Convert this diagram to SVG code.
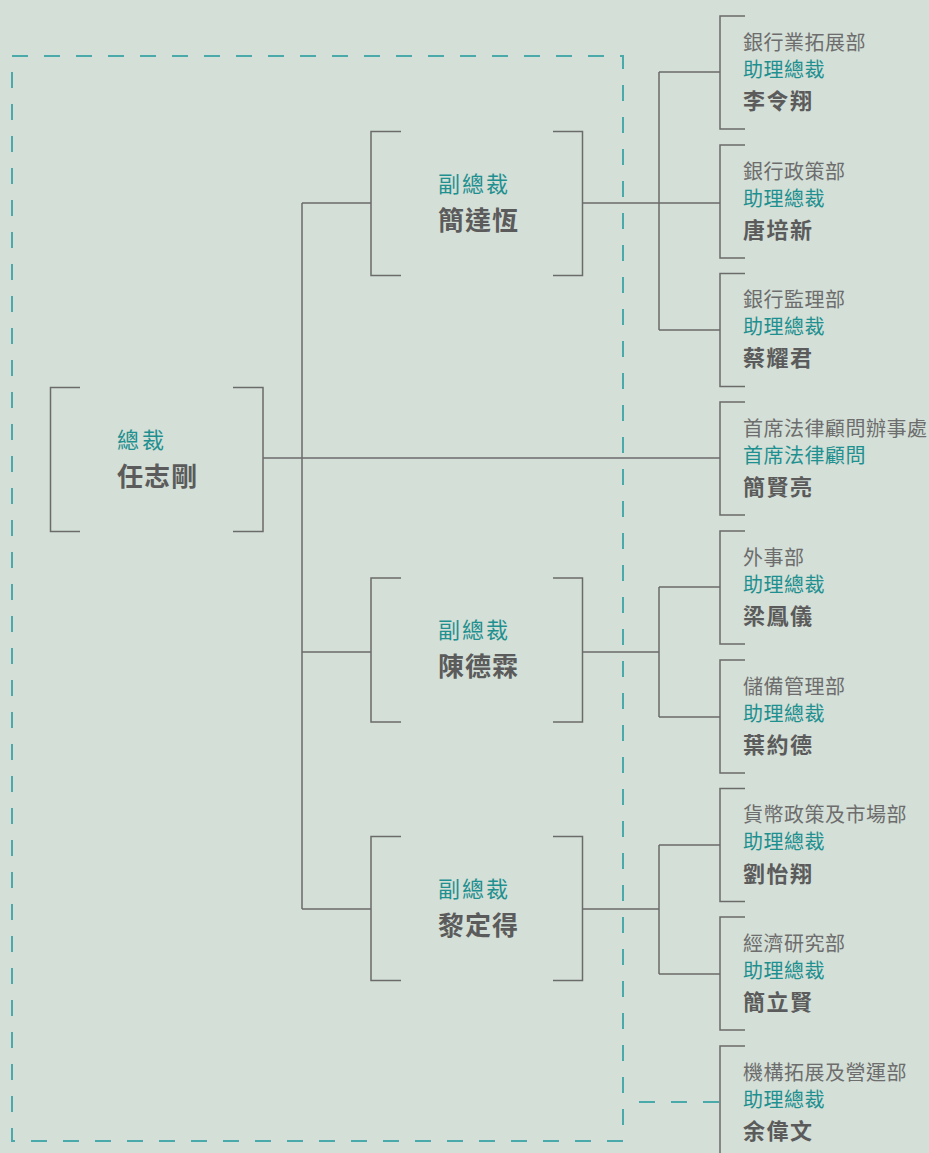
<svg xmlns="http://www.w3.org/2000/svg" width="929" height="1153" viewBox="0 0 929 1153">
<style>
.ln{fill:none;stroke:#6b6b6b;stroke-width:1.5}
.dash{fill:none;stroke:#4aa9ab;stroke-width:2;stroke-dasharray:16 16}
text{font-family:"Noto Sans CJK TC","Noto Sans CJK SC",sans-serif}
.lbl{fill:#1f9090;font-size:22px;letter-spacing:2px}
.big{fill:#5b5b5b;font-size:26px;font-weight:bold;letter-spacing:1px}
.dep{fill:#6d6d6d;font-size:20px;letter-spacing:0.5px}
.role{fill:#1f9090;font-size:20px;letter-spacing:0.5px}
.nm{fill:#5b5b5b;font-size:22px;font-weight:bold;letter-spacing:1.5px}
</style>
<rect width="929" height="1153" fill="#d4dfd7"/>
<rect class="dash" x="12" y="56" width="611" height="1085"/>
<g id="connectors">
<path class="ln" d="M263,458 H720"/>
<path class="ln" d="M302,203 V909 M302,203 H371 M302,652 H371 M302,909 H371"/>
<path class="ln" d="M582.5,203 H720 M659,72 V330 M659,72 H720 M659,330 H720"/>
<path class="ln" d="M582.5,652 H659 M659,587 V717 M659,587 H720 M659,717 H720"/>
<path class="ln" d="M582.5,909 H659 M659,845 V974 M659,845 H720 M659,974 H720"/>
<path class="dash" d="M639,1102 H719"/>
</g>
<g id="ceo">
<path class="ln" d="M80,387.5 H50.5 V531.5 H80 M233,387.5 H263 V531.5 H233"/>
<text class="lbl" x="117" y="448" style="letter-spacing:3px">總裁</text>
<text class="big" x="117" y="486">任志剛</text>
</g>
<g id="vp1">
<path class="ln" d="M401,131.5 H371 V275.5 H401 M553,131.5 H582.5 V275.5 H553"/>
<text class="lbl" x="438" y="192">副總裁</text>
<text class="big" x="438" y="230">簡達恆</text>
</g>
<g id="vp2">
<path class="ln" d="M401,578 H371 V722 H401 M553,578 H582.5 V722 H553"/>
<text class="lbl" x="438" y="638">副總裁</text>
<text class="big" x="438" y="676">陳德霖</text>
</g>
<g id="vp3">
<path class="ln" d="M401,836.5 H371 V980.5 H401 M553,836.5 H582.5 V980.5 H553"/>
<text class="lbl" x="438" y="897">副總裁</text>
<text class="big" x="438" y="935">黎定得</text>
</g>
<g id="d1">
<path class="ln" d="M745,16 H720 V129 H745"/>
<text class="dep" x="743" y="49.5">銀行業拓展部</text>
<text class="role" x="743" y="76.5">助理總裁</text>
<text class="nm" x="743" y="108.5">李令翔</text>
</g>
<g id="d2">
<path class="ln" d="M745,145 H720 V258 H745"/>
<text class="dep" x="743" y="178.5">銀行政策部</text>
<text class="role" x="743" y="205.5">助理總裁</text>
<text class="nm" x="743" y="237.5">唐培新</text>
</g>
<g id="d3">
<path class="ln" d="M745,273.5 H720 V386.5 H745"/>
<text class="dep" x="743" y="307">銀行監理部</text>
<text class="role" x="743" y="334">助理總裁</text>
<text class="nm" x="743" y="366">蔡耀君</text>
</g>
<g id="d4">
<path class="ln" d="M745,402 H720 V515 H745"/>
<text class="dep" x="743" y="435.5">首席法律顧問辦事處</text>
<text class="role" x="743" y="462.5">首席法律顧問</text>
<text class="nm" x="743" y="495">簡賢亮</text>
</g>
<g id="d5">
<path class="ln" d="M745,531 H720 V644 H745"/>
<text class="dep" x="743" y="564.5">外事部</text>
<text class="role" x="743" y="591.5">助理總裁</text>
<text class="nm" x="743" y="624">梁鳳儀</text>
</g>
<g id="d6">
<path class="ln" d="M745,660 H720 V773 H745"/>
<text class="dep" x="743" y="693.5">儲備管理部</text>
<text class="role" x="743" y="720.5">助理總裁</text>
<text class="nm" x="743" y="753">葉約德</text>
</g>
<g id="d7">
<path class="ln" d="M745,788.5 H720 V901.5 H745"/>
<text class="dep" x="743" y="822">貨幣政策及市場部</text>
<text class="role" x="743" y="849">助理總裁</text>
<text class="nm" x="743" y="881.5">劉怡翔</text>
</g>
<g id="d8">
<path class="ln" d="M745,917 H720 V1030 H745"/>
<text class="dep" x="743" y="950.5">經濟研究部</text>
<text class="role" x="743" y="977.5">助理總裁</text>
<text class="nm" x="743" y="1010">簡立賢</text>
</g>
<g id="d9">
<path class="ln" d="M745,1046 H720 V1160"/>
<text class="dep" x="743" y="1079.5">機構拓展及營運部</text>
<text class="role" x="743" y="1106.5">助理總裁</text>
<text class="nm" x="743" y="1139">余偉文</text>
</g>
</svg>
